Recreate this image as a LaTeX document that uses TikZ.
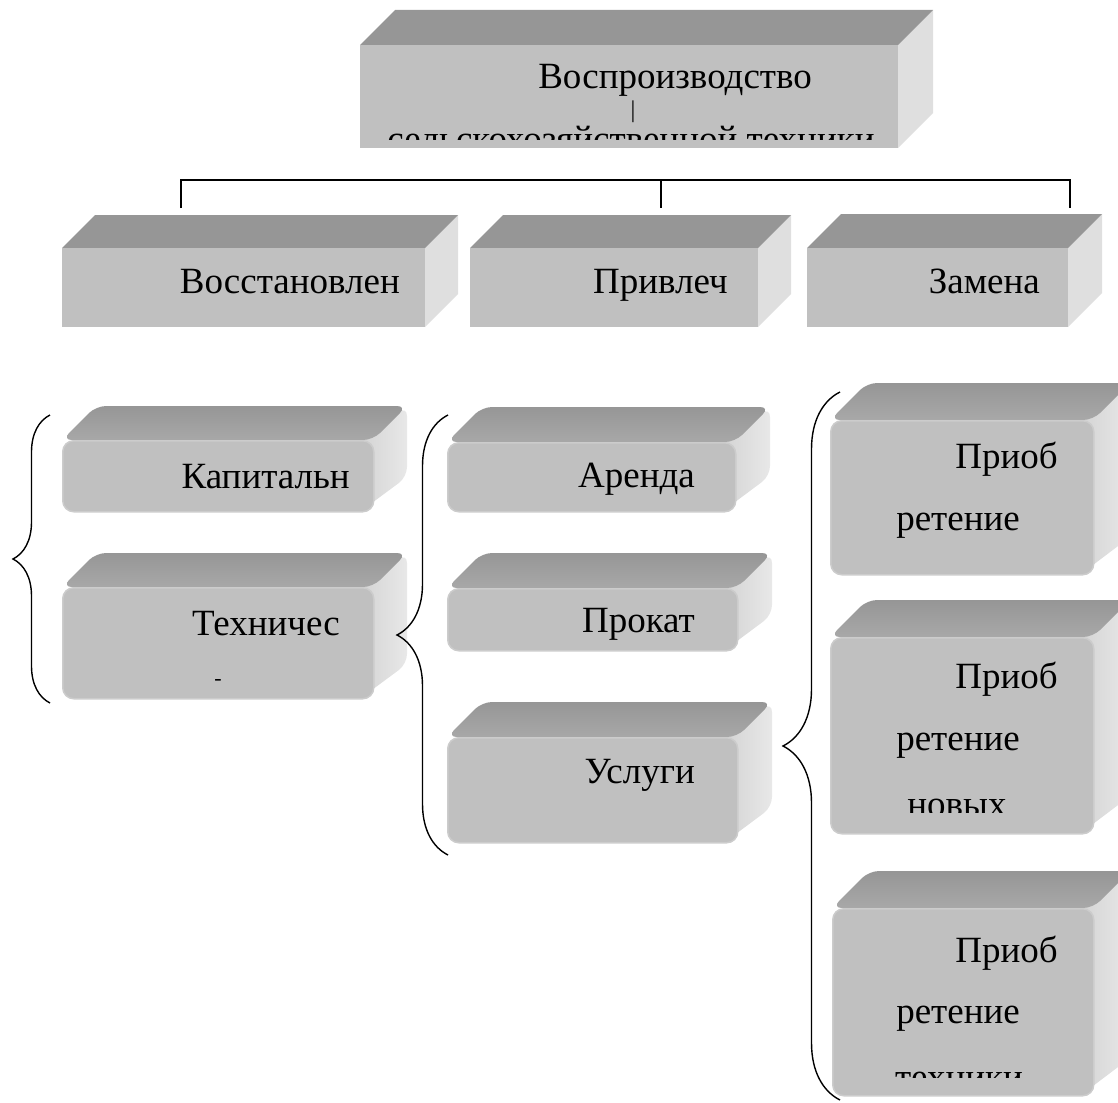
\documentclass[tikz,border=0pt]{standalone}
\usepackage{fontspec}
\setmainfont{Liberation Serif}
\usetikzlibrary{decorations.pathreplacing}

\definecolor{boxfront}{RGB}{192,192,192}
\definecolor{boxtop}{RGB}{150,150,150}
\definecolor{boxside}{RGB}{223,223,223}
\definecolor{bevsideA}{RGB}{212,212,212}
\definecolor{bevsideB}{RGB}{232,232,232}
\definecolor{bevtopB}{RGB}{168,168,168}
\definecolor{bevrim}{RGB}{204,204,204}

% flat box: name, left, top, right, bottom, depth
\newcommand\cube[6]{%
  \fill[boxside] (#4,#3) -- ++(#6,-#6) -- ++(0,#5-#3) -- (#4,#5) -- cycle;
  \fill[boxtop] (#2,#3) -- ++(#6,-#6) -- ++(#4-#2,0) -- (#4,#3) -- cycle;
  \node[front, minimum width=#4-#2, minimum height=#5-#3] (#1) at (#2,#3) {};
}
% rounded box: name, left, top, right, bottom, depth
\newcommand\bevel[6]{%
  \shade[left color=bevsideA, right color=bevsideB, rounded corners=10pt]
    (#4-12,#3) -- ++(#6+12,-#6) -- ++(0,#5-#3) -- (#4-12,#5) -- cycle;
  \shade[top color=boxtop, bottom color=bevtopB, rounded corners=10pt]
    (#2,#3) -- ++(#6,-#6) -- ++(#4-#2,0) -- (#4,#3) -- cycle;
  \node[roundfront, minimum width=#4-#2, minimum height=#5-#3] (#1) at (#2,#3) {};
}

\begin{document}
\begin{tikzpicture}[
  x=1pt, y=-1pt,
  front/.style={fill=boxfront, inner sep=0pt, anchor=north west},
  roundfront/.style={front, rounded corners=11pt, draw=bevrim, line width=1.5pt},
  lbl/.style={font=\fontsize{37}{44}\selectfont, anchor=base east, inner sep=0pt},
  cut/.style={lbl, anchor=base, text height=17pt},
  bar/.style={line width=1.8pt},
  curly/.style={decorate, decoration={brace, amplitude=#1}, line width=1.4pt}
  ]
  \useasboundingbox (0,0) rectangle (1118,1102);

  % top box
  \cube{repro}{360}{45}{898}{148}{35}
  \node[lbl] (repro-a) at (812,89) {Воспроизводство};
  \node[font=\fontsize{24}{26}\selectfont, inner sep=0pt, text height=13pt, text depth=3pt] (repro-b) at (633,113) {|};
  \begin{scope}
    \clip (360,45) rectangle (898,140);
    \node[cut] (repro-c) at (631,152) {сельскохозяйственной техники};
  \end{scope}

  % bar
  \coordinate (barL) at (181,180);
  \coordinate (barM) at (661,180);
  \coordinate (barR) at (1070,180);
  \coordinate (tickL) at (181,208);
  \coordinate (tickM) at (661,208);
  \coordinate (tickR) at (1070,208);
  \draw[bar] (tickL) -- (barL) -- (barR) -- (tickR);
  \draw[bar] (barM) -- (tickM);

  % second row
  \cube{vosst}{62}{248}{425}{327}{33}
  \cube{privl}{470}{248}{758}{327}{33}
  \cube{zamena}{807}{248}{1068}{327}{34}
  \node[lbl] (vosst-t) at (400,293) {Восстановлен};
  \node[lbl] (privl-t) at (728,293) {Привлеч};
  \node[lbl] (zamena-t) at (1040,293) {Замена};

  % left column
  \bevel{kap}{62}{440}{373}{511}{34}
  \bevel{tech}{62}{587}{373}{698}{34}
  \node[lbl] (kap-t) at (350,488) {Капитальн};
  \node[lbl] (tech-t) at (340,635) {Техничес};
  \node[font=\fontsize{22}{26}\selectfont, inner sep=0pt] (tech-d) at (218,682) {-};

  % middle column
  \bevel{arenda}{447}{442}{735}{511}{35}
  \bevel{prokat}{447}{588}{737}{650}{35}
  \bevel{uslugi}{447}{737}{737}{842}{35}
  \node[lbl] (arenda-t) at (695,487) {Аренда};
  \node[lbl] (prokat-t) at (695,632) {Прокат};
  \node[lbl] (uslugi-t) at (695,783) {Услуги};

  % right column
  \bevel{priob1}{830}{420}{1093}{574}{37}
  \bevel{priob2}{830}{637}{1093}{833}{37}
  \bevel{priob3}{832}{908}{1093}{1095}{37}
  \node[lbl] (priob1-a) at (1058,468) {Приоб};
  \node[lbl] (priob1-b) at (1020,530) {ретение};
  \node[lbl] (priob2-a) at (1058,688) {Приоб};
  \node[lbl] (priob2-b) at (1020,750) {ретение};
  \node[lbl] (priob3-a) at (1058,962) {Приоб};
  \node[lbl] (priob3-b) at (1020,1023) {ретение};
  \begin{scope}
    \clip (830,637) rectangle (1093,812);
    \node[cut] (priob2-c) at (957,816) {новых};
  \end{scope}
  \begin{scope}
    \clip (832,908) rectangle (1093,1077);
    \node[cut] (priob3-c) at (959,1089) {техники};
  \end{scope}

  % braces
  \coordinate (kapB) at (50,703);
  \coordinate (kapT) at (50,415);
  \coordinate (midB) at (448,855);
  \coordinate (midT) at (448,415);
  \coordinate (rgtB) at (840,1100);
  \coordinate (rgtT) at (840,392);
  \draw[curly=37] (kapB) -- (kapT);
  \draw[curly=51] (midB) -- (midT);
  \draw[curly=57] (rgtB) -- (rgtT);
\end{tikzpicture}
\end{document}
